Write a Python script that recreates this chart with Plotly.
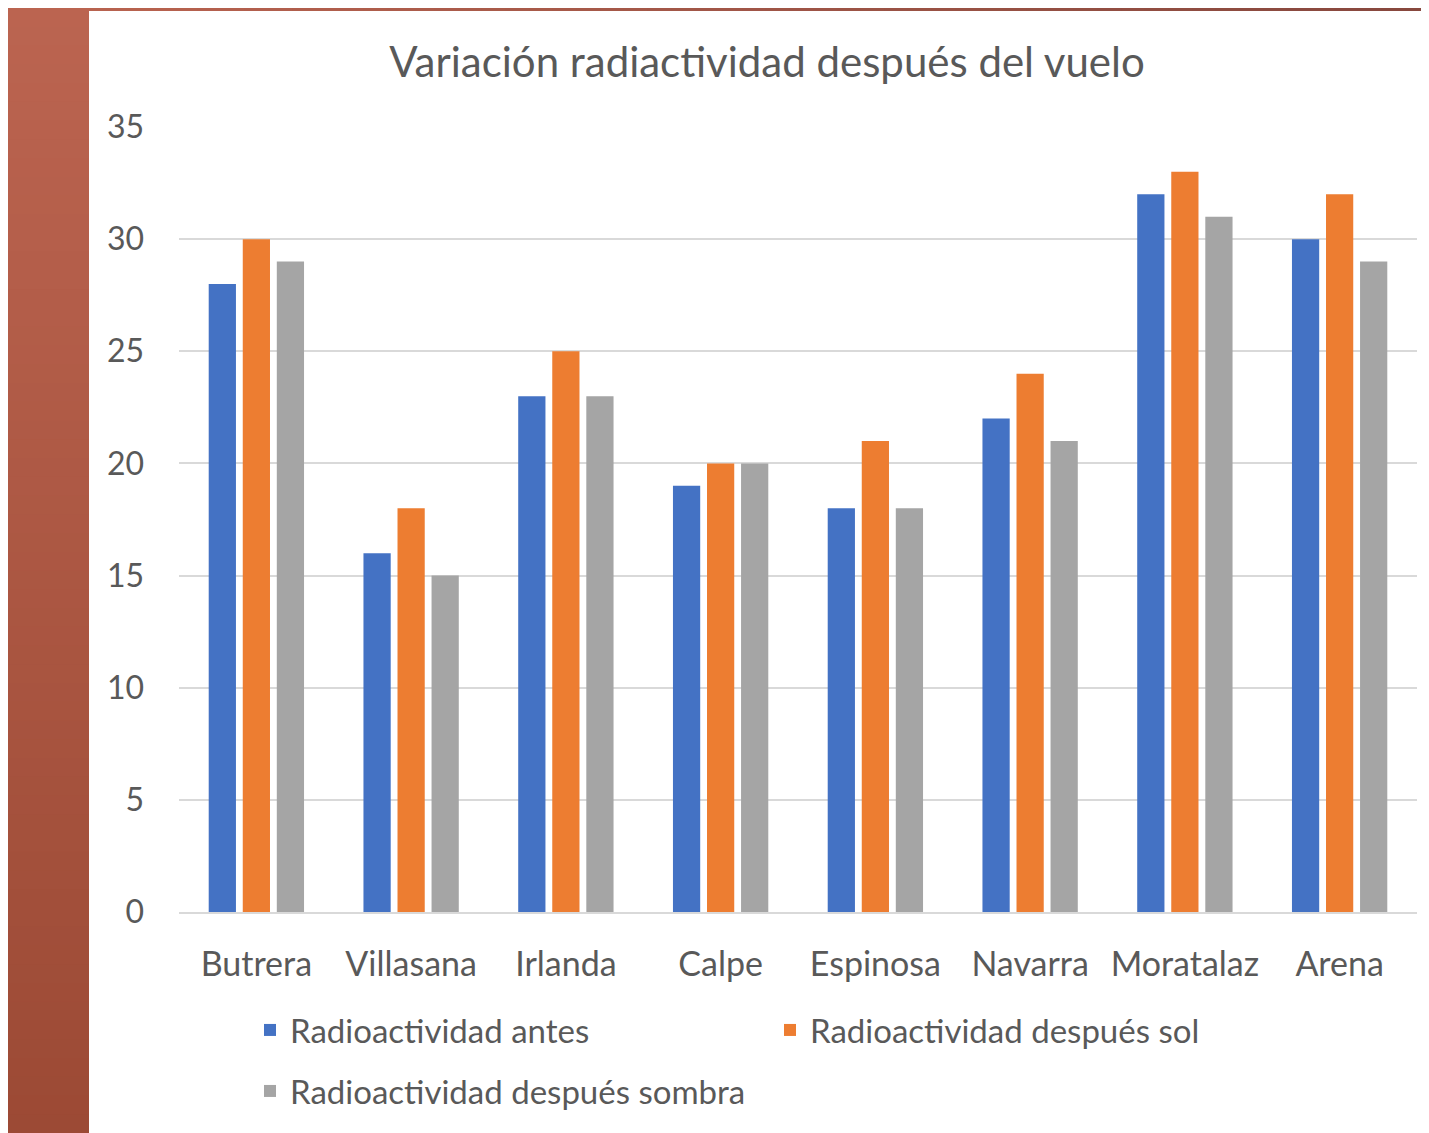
import plotly.graph_objects as go

categories = ["Butrera", "Villasana", "Irlanda", "Calpe", "Espinosa", "Navarra", "Moratalaz", "Arena"]
antes = [28, 16, 23, 19, 18, 22, 32, 30]
despues_sol = [30, 18, 25, 20, 21, 24, 33, 32]
despues_sombra = [29, 15, 23, 20, 18, 21, 31, 29]
series_names = ["Radioactividad antes", "Radioactividad después sol", "Radioactividad después sombra"]
series_colors = ["#4472C4", "#ED7D31", "#A5A5A5"]
y_ticks = [0, 5, 10, 15, 20, 25, 30, 35]

OFF = 8  # page body margin
PAGE_W, PAGE_H = 1429, 1133
W, H = PAGE_W - OFF, PAGE_H - OFF
# plot area in page pixels
P_LEFT, P_RIGHT, P_TOP, P_BOTTOM = 179, 1417, 127, 912
L = P_LEFT - OFF
R = W - (P_RIGHT - OFF)
T = P_TOP - OFF
B = H - (P_BOTTOM - OFF)
PW, PH = W - L - R, H - T - B

def px_x(px):
    return (px - OFF - L) / PW

def px_y(py):
    return (H - B - (py - OFF)) / PH

FONT = "Lato"
TXT = "#595959"

fig = go.Figure()
for name, vals, col, lg in zip(series_names, [antes, despues_sol, despues_sombra], series_colors,
                               ["legend", "legend", "legend2"]):
    fig.add_trace(go.Bar(x=categories, y=vals, name=name, marker=dict(color=col, line=dict(width=0)),
                         legend=lg))

shapes = []
TL = (187, 100, 80)
TR = (135, 72, 62)
BL = (156, 74, 53)

def mix(a, b, t):
    return "rgb(%d,%d,%d)" % tuple(round(a[i] + (b[i] - a[i]) * t) for i in range(3))

n = 60
for i in range(n):
    x0 = OFF + (PAGE_W - OFF) * i / n
    x1 = OFF + (PAGE_W - OFF) * (i + 1) / n + 1
    shapes.append(dict(type="rect", xref="paper", yref="paper", x0=px_x(x0), x1=px_x(x1),
                       y0=px_y(OFF), y1=px_y(12), fillcolor=mix(TL, TR, i / (n - 1)),
                       line=dict(width=0), layer="below"))
for i in range(n):
    y0 = OFF + (PAGE_H - OFF) * i / n
    y1 = OFF + (PAGE_H - OFF) * (i + 1) / n + 1
    shapes.append(dict(type="rect", xref="paper", yref="paper", x0=px_x(OFF), x1=px_x(90),
                       y0=px_y(y0), y1=px_y(y1), fillcolor=mix(TL, BL, i / (n - 1)),
                       line=dict(width=0), layer="below"))
shapes.append(dict(type="rect", xref="paper", yref="paper", x0=px_x(89), x1=px_x(PAGE_W + 2),
                   y0=px_y(11), y1=px_y(PAGE_H + 2), fillcolor="white", line=dict(width=0), layer="below"))

fig.update_layout(
    width=W, height=H,
    margin=dict(l=L, r=R, t=T, b=B, pad=0),
    paper_bgcolor="white",
    plot_bgcolor="rgba(0,0,0,0)",
    shapes=shapes,
    barmode="group",
    bargap=0.34,
    bargroupgap=0.2,
    font=dict(family=FONT, color=TXT, size=33),
    title=dict(text="Variación radiactividad después del vuelo", xref="paper", x=px_x(767), xanchor="center",
               yref="container", y=1 - (62 - OFF) / H, yanchor="middle",
               font=dict(size=42, color=TXT, family=FONT)),
    legend=dict(orientation="h", x=px_x(250), y=px_y(1030), xanchor="left", yanchor="middle",
                entrywidth=475, entrywidthmode="pixels", font=dict(size=33, color=TXT),
                bgcolor="rgba(0,0,0,0)"),
    legend2=dict(orientation="h", x=px_x(250), y=px_y(1091), xanchor="left", yanchor="middle",
                 font=dict(size=33, color=TXT), bgcolor="rgba(0,0,0,0)"),
    xaxis=dict(showgrid=False, showline=True, linecolor="#D9D9D9", linewidth=1.5,
               ticks="outside", ticklen=21, tickcolor="rgba(0,0,0,0)",
               tickfont=dict(size=34, color=TXT)),
    yaxis=dict(range=[0, 35], tickvals=y_ticks, showgrid=True, gridcolor="#D9D9D9", gridwidth=1.5,
               zeroline=False, showline=False, ticks="", ticklabelstandoff=34,
               tickfont=dict(size=32, color=TXT)),
)

fig.write_html("out.html")
